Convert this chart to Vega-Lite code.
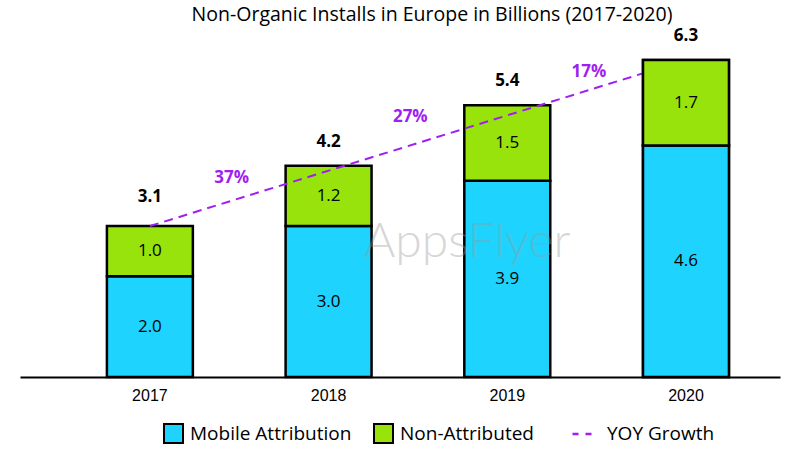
{
  "$schema": "https://vega.github.io/schema/vega-lite/v6.json",
  "width": 760,
  "height": 317,
  "autosize": {"type": "none"},
  "padding": {"left": 20, "top": 60, "right": 23, "bottom": 76},
  "title": {
    "text": "Non-Organic Installs in Europe in Billions (2017-2020)",
    "fontSize": 19.5,
    "font": "Open Sans",
    "fontWeight": "normal",
    "color": "black",
    "dx": 32,
    "offset": 2
  },
  "config": {"view": {"stroke": null}, "font": "Open Sans"},
  "datasets": {
    "segments": [
      {"year": "2017", "series": "Mobile Attribution", "value": 2.0},
      {"year": "2017", "series": "Non-Attributed", "value": 1.0},
      {"year": "2018", "series": "Mobile Attribution", "value": 3.0},
      {"year": "2018", "series": "Non-Attributed", "value": 1.2},
      {"year": "2019", "series": "Mobile Attribution", "value": 3.9},
      {"year": "2019", "series": "Non-Attributed", "value": 1.5},
      {"year": "2020", "series": "Mobile Attribution", "value": 4.6},
      {"year": "2020", "series": "Non-Attributed", "value": 1.7}
    ],
    "totals": [
      {"year": "2017", "total": 3.1},
      {"year": "2018", "total": 4.2},
      {"year": "2019", "total": 5.4},
      {"year": "2020", "total": 6.3}
    ],
    "growth": [
      {"year": "2018", "total": 4.2, "label": "37%"},
      {"year": "2019", "total": 5.4, "label": "27%"},
      {"year": "2020", "total": 6.3, "label": "17%"}
    ],
    "trend": [
      {"year": "2017", "v": 3.0, "name": "YOY Growth"},
      {"year": "2020", "v": 6.3, "name": "YOY Growth"}
    ],
    "mark": [{"t": "AppsFlyer"}]
  },
  "encoding": {
    "x": {
      "field": "year",
      "type": "ordinal",
      "scale": {"paddingInner": 0.519, "paddingOuter": 0.386, "align": 0.63},
      "axis": {
        "title": null,
        "labelAngle": 0,
        "domainColor": "black",
        "domainWidth": 2,
        "ticks": false,
        "labelFontSize": 16,
        "labelColor": "black",
        "labelFont": "Liberation Sans",
        "labelPadding": 10
      }
    }
  },
  "layer": [
    {
      "data": {"name": "segments"},
      "mark": {"type": "bar", "stroke": "black", "strokeWidth": 2.5},
      "encoding": {
        "y": {
          "field": "value",
          "type": "quantitative",
          "stack": "zero",
          "scale": {"domain": [0, 6.3], "nice": false, "zero": true},
          "axis": null
        },
        "fill": {
          "field": "series",
          "type": "nominal",
          "scale": {"domain": ["Mobile Attribution", "Non-Attributed"], "range": ["#1ED3FD", "#97E30B"]},
          "legend": {
            "title": null,
            "orient": "none",
            "direction": "horizontal",
            "legendX": 143,
            "legendY": 363,
            "symbolType": "square",
            "symbolSize": 361,
            "symbolStrokeColor": "black",
            "symbolStrokeWidth": 2,
            "labelFontSize": 19,
            "labelFont": "Open Sans",
            "labelColor": "black",
            "labelLimit": 300,
            "labelOffset": 6,
            "columnPadding": 18
          }
        },
        "order": {"field": "series", "sort": "ascending"}
      }
    },
    {
      "data": {"name": "trend"},
      "mark": {"type": "line", "strokeDash": [9, 6], "strokeWidth": 2},
      "encoding": {
        "y": {"field": "v", "type": "quantitative"},
        "stroke": {
          "field": "name",
          "type": "nominal",
          "scale": {"range": ["#A11EF2"]},
          "legend": {
            "title": null,
            "orient": "none",
            "legendX": 551,
            "legendY": 363,
            "symbolType": "stroke",
            "symbolSize": 361,
            "symbolStrokeWidth": 2.5,
            "symbolDash": [6, 7],
            "labelFontSize": 19,
            "labelFont": "Open Sans",
            "labelColor": "black",
            "labelLimit": 300,
            "labelOffset": 14
          }
        }
      }
    },
    {
      "data": {"name": "segments"},
      "transform": [{"filter": {"field": "year", "equal": "2020"}}],
      "mark": {"type": "bar", "stroke": "black", "strokeWidth": 2.5},
      "encoding": {
        "y": {"field": "value", "type": "quantitative", "stack": "zero"},
        "fill": {"field": "series", "type": "nominal"},
        "order": {"field": "series", "sort": "ascending"}
      }
    },
    {
      "data": {"name": "segments"},
      "mark": {"type": "text", "fontSize": 17, "font": "Open Sans", "color": "black", "baseline": "middle"},
      "encoding": {
        "y": {"field": "value", "type": "quantitative", "stack": "zero", "bandPosition": 0.5},
        "detail": {"field": "series"},
        "order": {"field": "series", "sort": "ascending"},
        "text": {"field": "value", "type": "quantitative", "format": ".1f"}
      }
    },
    {
      "data": {"name": "totals"},
      "mark": {"type": "text", "fontSize": 17, "fontWeight": "bold", "font": "Open Sans", "color": "black", "baseline": "middle", "dy": -24},
      "encoding": {
        "y": {"field": "total", "type": "quantitative"},
        "text": {"field": "total", "type": "quantitative", "format": ".1f"}
      }
    },
    {
      "data": {"name": "growth"},
      "mark": {"type": "text", "fontSize": 17, "fontWeight": "bold", "font": "Open Sans", "color": "#A11EF2", "baseline": "middle", "dx": -97, "dy": 12},
      "encoding": {
        "y": {"field": "total", "type": "quantitative"},
        "text": {"field": "label"}
      }
    },
    {
      "data": {"name": "mark"},
      "mark": {"type": "text", "fontSize": 48, "font": "Lato", "fontWeight": 300, "color": "#9a9a9a", "opacity": 0.4, "baseline": "middle", "dx": -40},
      "encoding": {
        "x": {"datum": "2019"},
        "y": {"datum": 2.66},
        "text": {"field": "t"}
      }
    }
  ]
}
